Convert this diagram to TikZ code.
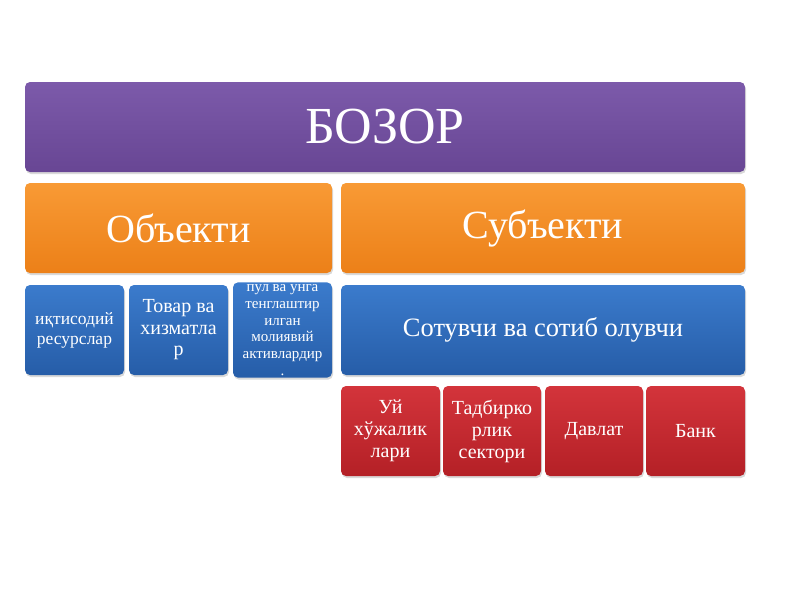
\documentclass[tikz,border=0pt]{standalone}
\usepackage{fontspec}
\setmainfont{Liberation Serif}
\usetikzlibrary{shadows}
\definecolor{purpletop}{HTML}{7C5AAA}
\definecolor{purplebot}{HTML}{684694}
\definecolor{orangetop}{HTML}{F89A35}
\definecolor{orangebot}{HTML}{EC8018}
\definecolor{bluetop}{HTML}{3B7BCC}
\definecolor{bluebot}{HTML}{265DA8}
\definecolor{redtop}{HTML}{D3343B}
\definecolor{redbot}{HTML}{B42026}
\tikzset{
  card/.style={rectangle, rounded corners=5pt, text=white, align=center,
    inner sep=2pt, minimum height=90pt,
    drop shadow={opacity=.3, shadow xshift=1pt, shadow yshift=-2pt}},
  headcard/.style={card, top color=purpletop, bottom color=purplebot},
  groupcard/.style={card, top color=orangetop, bottom color=orangebot},
  itemcard/.style={card, top color=bluetop, bottom color=bluebot},
  agentcard/.style={card, top color=redtop, bottom color=redbot},
}
\begin{document}
\begin{tikzpicture}[x=1pt,y=-1pt]
  \useasboundingbox (0,0) rectangle (800,600);
  % top level
  \node[headcard, minimum width=720pt, font=\fontsize{52}{58}\selectfont]
    (bozor) at (385,127) {БОЗОР};
  % second level
  \node[groupcard, minimum width=307pt, font=\fontsize{40}{44}\selectfont]
    (obyekt) at (178.5,228) {Объекти};
  \node[groupcard, minimum width=404pt, font=\fontsize{40}{44}\selectfont]
    (subyekt) at (543,228) {Субъекти};
  % objects
  \node[itemcard, minimum width=99pt, font=\fontsize{17.5}{20}\selectfont]
    (resurs) at (74.5,330) {иқтисодий\\ресурслар};
  \node[itemcard, minimum width=99pt, font=\fontsize{20}{21.5}\selectfont]
    (tovar) at (178.5,330) {Товар ва\\хизматла\\р};
  \node[itemcard, minimum width=99pt, font=\fontsize{15}{16.8}\selectfont]
    (pul) at (282.5,330) {пул ва унга\\тенглаштир\\илган\\молиявий\\активлардир\\.};
  % subjects
  \node[itemcard, minimum width=404pt, font=\fontsize{26.5}{30}\selectfont]
    (sotuv) at (543,330) {Сотувчи ва сотиб олувчи};
  \node[agentcard, minimum width=99pt, font=\fontsize{20}{22}\selectfont]
    (uy) at (390.5,431) {Уй\\хўжалик\\лари};
  \node[agentcard, minimum width=98pt, font=\fontsize{20}{22}\selectfont]
    (tadbir) at (492,431) {Тадбирко\\рлик\\сектори};
  \node[agentcard, minimum width=98pt, font=\fontsize{20}{22}\selectfont]
    (davlat) at (594,431) {Давлат};
  \node[agentcard, minimum width=99pt, font=\fontsize{20}{22}\selectfont]
    (bank) at (695.5,431) {Банк};
\end{tikzpicture}
\end{document}
